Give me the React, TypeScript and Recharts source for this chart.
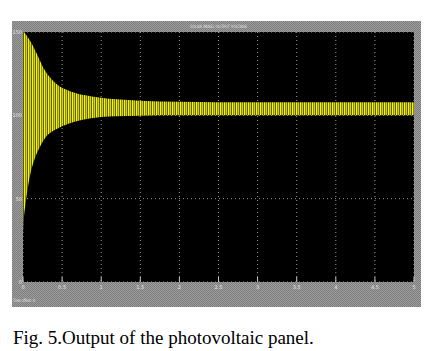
import React from 'react';
import { ComposedChart, Area, XAxis, YAxis, CartesianGrid } from 'recharts';

const time = [0, 0.01, 0.03, 0.06, 0.1, 0.15, 0.2, 0.25, 0.3, 0.35, 0.4, 0.5, 0.6, 0.7, 0.8, 0.9, 1.0, 1.2, 1.5, 2, 2.5, 3, 3.5, 4, 4.5, 5];
const upperEnvelope = [150, 150, 149, 147, 144, 139.5, 134.5, 129.5, 125.5, 122.5, 120, 116.5, 114.5, 113, 112, 111.2, 110.6, 109.6, 108.8, 108.2, 107.9, 107.8, 107.8, 107.8, 107.8, 107.8];
const lowerEnvelope = [28, 37, 46, 56, 66, 74, 79.5, 84, 87.5, 89.5, 91, 93.5, 95.3, 96.6, 97.6, 98.4, 99, 99.5, 99.8, 100, 100, 100, 100, 100, 100, 100];

const xTicks = [0, 0.5, 1, 1.5, 2, 2.5, 3, 3.5, 4, 4.5, 5];
const xTickLabels = ['0', '0.5', '1', '1.5', '2', '2.5', '3', '3.5', '4', '4.5', '5'];
const yTicks = [0, 50, 100, 150];
const yTickLabels = ['0', '50', '100', '150'];

const title = 'SOLAR PANEL OUTPUT VOLTAGE';
const offsetLabel = 'Time offset: 0';
const caption = 'Fig. 5.Output of the photovoltaic panel.';

const data = time.map((t, i) => ({ t, band: [lowerEnvelope[i], upperEnvelope[i]] }));

const tinyFont = 'DejaVu Sans, sans-serif';

const BottomTick = (props: any) => {
  const { x, y, payload } = props;
  const label = xTickLabels[xTicks.indexOf(payload.value)] ?? String(payload.value);
  return (
    <g>
      <line x1={x} x2={x} y1={y - 5} y2={y} stroke="#c8c8c8" strokeWidth={1} />
      <text x={x} y={y + 7} fontSize={5} fill="#e8e8e8" fontFamily={tinyFont} textAnchor="middle">{label}</text>
    </g>
  );
};

const TopTick = (props: any) => {
  const { x, y } = props;
  return <line x1={x} x2={x} y1={y} y2={y + 4} stroke="#c8c8c8" strokeWidth={1} />;
};

const LeftTick = (props: any) => {
  const { x, y, payload } = props;
  const label = yTickLabels[yTicks.indexOf(payload.value)] ?? String(payload.value);
  return (
    <text x={x} y={y + 2} fontSize={5} fill="#e8e8e8" fontFamily={tinyFont} textAnchor="end">{label}</text>
  );
};

export default function App() {
  return (
    <div style={{ position: 'absolute', left: 0, top: 0, width: 437, height: 351, background: '#fff', overflow: 'hidden' }}>
      <div
        style={{
          position: 'absolute', left: 12, top: 21, width: 409, height: 286,
          backgroundColor: '#8c8c8c',
          backgroundImage: 'repeating-conic-gradient(#7e7e7e 0 25%, #9c9c9c 0 50%)',
          backgroundSize: '2px 2px',
        }}
      />
      <svg width={437} height={40} style={{ position: 'absolute', left: 0, top: 0 }}>
        <text x={190} y={28} fontSize={4.5} fill="#e0e0e0" fontFamily={tinyFont} textLength={57} lengthAdjust="spacingAndGlyphs">{title}</text>
      </svg>
      <div style={{ position: 'absolute', left: 0, top: 0 }}>
        <ComposedChart width={437} height={351} data={data} margin={{ top: 32, right: 23, bottom: 59, left: 12 }}>
          <defs>
            <pattern id="osc" patternUnits="userSpaceOnUse" width={4} height={4}>
              <rect x={0} y={0} width={1} height={4} fill="#f4f410" />
              <rect x={1} y={0} width={1} height={4} fill="#8e8e00" />
              <rect x={2} y={0} width={1} height={4} fill="#d4d400" />
              <rect x={3} y={0} width={1} height={4} fill="#5e5e00" />
            </pattern>
          </defs>
          <CartesianGrid fill="#000" stroke="#9a9a9a" strokeDasharray="1 3" horizontal vertical />
          <XAxis dataKey="t" type="number" domain={[0, 5]} ticks={xTicks} height={10} tickSize={0} tickMargin={0} axisLine={false} tickLine={false} tick={<BottomTick />} interval={0} allowDataOverflow />
          <XAxis xAxisId="top" orientation="top" dataKey="t" type="number" domain={[0, 5]} ticks={xTicks} height={0} tickSize={0} tickMargin={0} axisLine={false} tickLine={false} tick={<TopTick />} interval={0} />
          <YAxis type="number" domain={[0, 150]} ticks={yTicks} width={11} tickSize={0} tickMargin={1} axisLine={false} tickLine={false} tick={<LeftTick />} interval={0} allowDataOverflow />
          <Area dataKey="band" type="monotone" fill="url(#osc)" fillOpacity={1} stroke="none" isAnimationActive={false} />
        </ComposedChart>
      </div>
      <svg width={60} height={12} style={{ position: 'absolute', left: 10, top: 292 }}>
        <text x={3} y={10} fontSize={4.5} fill="#e8e8e8" fontFamily={tinyFont} textLength={22} lengthAdjust="spacingAndGlyphs">{offsetLabel}</text>
      </svg>
      <div style={{ position: 'absolute', left: 13, top: 327, fontFamily: '"Liberation Serif", "Times New Roman", serif', fontSize: 19, color: '#000', whiteSpace: 'nowrap', lineHeight: '22px' }}>
        {caption}
      </div>
    </div>
  );
}
